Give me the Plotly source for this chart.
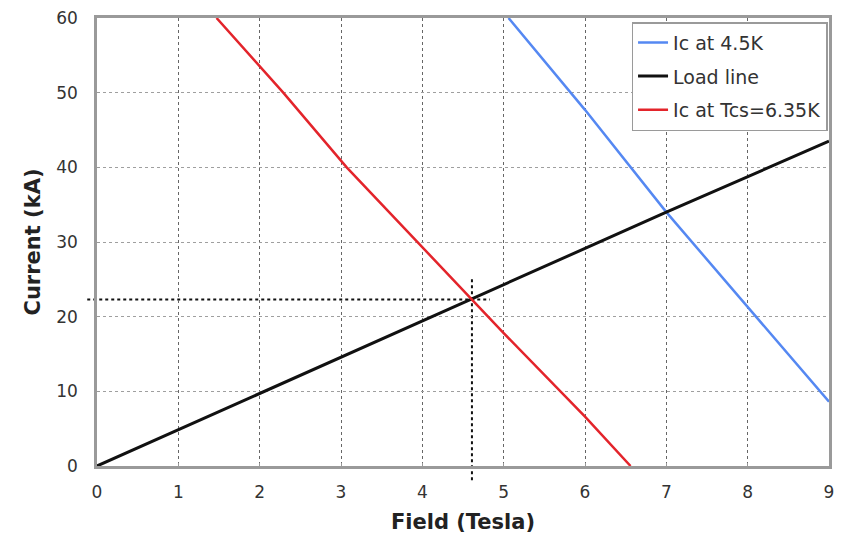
import plotly.graph_objects as go

# ---- data ----
blue_x = [5.06, 6.0, 7.0, 8.0, 9.0]
blue_y = [60.0, 47.7, 34.0, 21.3, 8.6]

load_x = [0.0, 2.0, 4.61, 7.0, 9.0]
load_y = [0.0, 9.7, 22.3, 34.0, 43.5]

red_x = [1.47, 2.29, 3.07, 3.94, 4.61, 5.0, 6.0, 6.56]
red_y = [60.0, 50.0, 40.0, 30.0, 22.3, 17.8, 6.6, 0.0]

cross_x = 4.61          # operating point field (T)
cross_y = 22.3          # operating point current (kA)
hline_x = [-0.12, 4.83]  # extent of horizontal dotted marker
vline_y = [-1.9, 25.0]   # extent of vertical dotted marker

x_range = [0, 9]
y_range = [0, 60]
x_ticks = [0, 1, 2, 3, 4, 5, 6, 7, 8, 9]
y_ticks = [0, 10, 20, 30, 40, 50, 60]

names = ["Ic at 4.5K", "Load line", "Ic at Tcs=6.35K"]

fig = go.Figure()
fig.add_trace(go.Scatter(x=blue_x, y=blue_y, mode="lines", name=names[0],
                         line=dict(color="#5588f2", width=2.5), legendgroup="a"))
fig.add_trace(go.Scatter(x=load_x, y=load_y, mode="lines", name=names[1],
                         line=dict(color="#111111", width=3), legendgroup="b"))
fig.add_trace(go.Scatter(x=red_x, y=red_y, mode="lines", name=names[2],
                         line=dict(color="#e3242b", width=2.5), legendgroup="c"))

def px(v):
    return (v - x_range[0]) / (x_range[1] - x_range[0])

def py(v):
    return (v - y_range[0]) / (y_range[1] - y_range[0])

# dotted operating-point markers (paper coords so they may overhang the axes)
fig.add_shape(type="line", xref="paper", yref="paper",
              x0=px(hline_x[0]), x1=px(hline_x[1]), y0=py(cross_y), y1=py(cross_y),
              line=dict(color="#111111", width=2, dash="dot"), layer="below")
fig.add_shape(type="line", xref="paper", yref="paper",
              x0=px(cross_x), x1=px(cross_x), y0=py(vline_y[0]), y1=py(vline_y[1]),
              line=dict(color="#111111", width=2, dash="dot"), layer="below")

axis_common = dict(
    showline=True, mirror=True, linecolor="#9a9a9a", linewidth=2.5,
    showgrid=True, gridwidth=1, griddash="dot", automargin=False,
    ticklabeloverflow="allow",
    zeroline=False, ticks="inside", ticklen=3, tickcolor="#9a9a9a",
    tickfont=dict(family="DejaVu Sans", size=17, color="#333333"),
)

fig.update_xaxes(range=x_range, tickvals=x_ticks, gridcolor="#666666",
                 ticklabelstandoff=9, **axis_common,
                 title=dict(text="<b>Field (Tesla)</b>", standoff=15,
                            font=dict(family="DejaVu Sans", size=21, color="#222222")))
fig.update_yaxes(range=y_range, tickvals=y_ticks, gridcolor="#9f9f9f",
                 ticklabelstandoff=13, **axis_common,
                 title=dict(text="<b>Current (kA)</b>", standoff=10,
                            font=dict(family="DejaVu Sans", size=21, color="#222222")))

# page body adds an 8px margin, so the figure is sized/margined to compensate
fig.update_layout(
    width=838, height=526,
    margin=dict(l=89, r=17, t=10, b=68, autoexpand=False),
    plot_bgcolor="white", paper_bgcolor="white",
    showlegend=True,
    legend=dict(x=0.998, y=0.991, xanchor="right", yanchor="top",
                bgcolor="white", bordercolor="#9a9a9a", borderwidth=1.5,
                font=dict(family="DejaVu Sans", size=19, color="#333333"),
                tracegroupgap=6, itemwidth=30),
)

fig.write_html("out.html")
